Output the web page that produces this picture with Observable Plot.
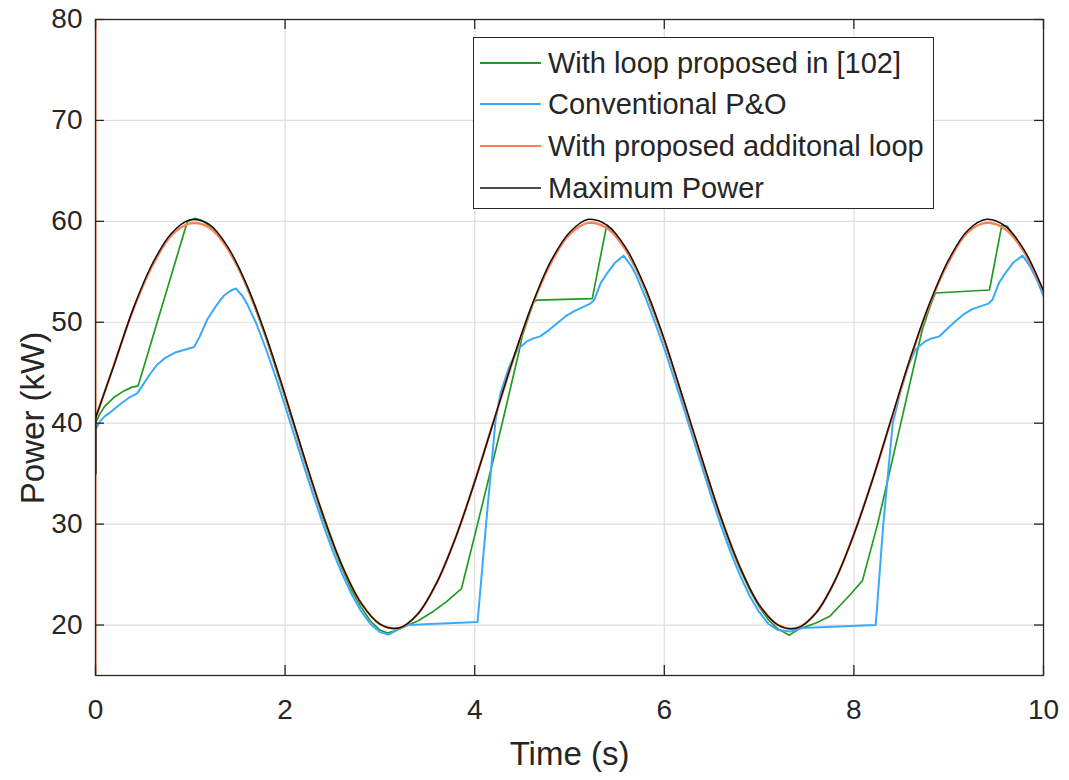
<!DOCTYPE html>
<html><head><meta charset="utf-8">
<script src="https://cdn.jsdelivr.net/npm/d3@7"></script>
<script src="https://cdn.jsdelivr.net/npm/@observablehq/plot@0.6"></script>
<style>
body{margin:0;background:#fff;}
#wrap{position:relative;width:1069px;height:780px;font-family:"Liberation Sans",Arial,Helvetica,sans-serif;}
#legend{position:absolute;left:473px;top:37px;width:459px;height:170px;border:1.3px solid #262626;background:#fff;box-sizing:content-box;}
.row{position:absolute;left:0;height:42px;display:flex;align-items:center;}
.sw{width:61px;margin-left:6px;margin-right:7px;}
.lab{font-size:29px;color:#262626;white-space:nowrap;line-height:42px;}
</style></head>
<body>
<div id="wrap"><div id="legend"></div></div>
<script>
// ---- data ----
const xTicks = [0, 2, 4, 6, 8, 10];
const yTicks = [20, 30, 40, 50, 60, 70, 80];
const xLabel = "Time (s)";
const yLabel = "Power (kW)";
const seriesNames = ["With loop proposed in [102]", "Conventional P&O", "With proposed additonal loop", "Maximum Power"];
const seriesColors = ["#229a22", "#3aaaf8", "#ff8050", "#111111"];

const timeGrid = [0,0.2,0.4,0.6,0.8,1.0,1.2,1.4,1.6,1.8,2.0,2.2,2.4,2.6,2.8,3.0,3.2,3.4,3.6,3.8,4.0,4.2,4.4,4.6,4.8,5.0,5.2,5.4,5.6,5.8,6.0,6.2,6.4,6.6,6.8,7.0,7.2,7.4,7.6,7.8,8.0,8.2,8.4,8.6,8.8,9.0,9.2,9.4,9.6,9.8,10.0];
const maxPower = [40.5,45.9,51.4,55.8,58.8,60.15,59.7,57.4,53.6,48.6,42.8,36.7,30.9,25.9,22.2,20.1,19.7,21.1,24.2,28.7,34.2,40.2,46.2,51.6,56.0,58.9,60.2,59.6,57.3,53.4,48.3,42.4,36.4,30.6,25.7,22.0,20.0,19.7,21.2,24.4,29.0,34.5,40.6,46.6,51.9,56.2,59.1,60.2,59.5,57.1,53.1];
const proposedLoop = [40.5,45.9,51.3,55.6,58.6,59.8,59.4,57.2,53.5,48.5,42.7,36.6,30.9,25.9,22.2,20.1,19.7,21.1,24.2,28.7,34.2,40.2,46.1,51.5,55.8,58.7,59.85,59.3,57.1,53.3,48.2,42.3,36.3,30.6,25.7,22.0,20.0,19.7,21.2,24.4,29.0,34.5,40.5,46.5,51.8,56.0,58.9,59.85,59.2,56.9,53.0];
const maxSpikeT = [0, 0];
const maxSpikeP = [35, 41];
const proposedSpikeT = [0, 0];
const proposedSpikeP = [15, 80];

const loop102T = [0,0.05,0.1,0.2,0.3,0.38,0.45,0.97,1.05,1.12,1.2,1.3,1.4,1.5,1.6,1.7,1.8,1.9,2.0,2.1,2.2,2.3,2.4,2.5,2.6,2.7,2.8,2.9,3.0,3.08,3.15,3.25,3.4,3.57,3.7,3.86,4.03,4.29,4.47,4.5,4.55,4.62,4.66,5.24,5.39,5.45,5.5,5.6,5.7,5.8,5.9,6.0,6.1,6.2,6.3,6.4,6.5,6.6,6.7,6.8,6.9,7.0,7.1,7.2,7.32,7.42,7.6,7.75,7.96,8.09,8.25,8.5,8.69,8.72,8.8,8.86,9.43,9.56,9.62,9.7,9.8,9.9,10.0];
const loop102P = [40.0,41.0,41.7,42.6,43.2,43.55,43.7,60.0,60.3,60.1,59.6,58.6,57.2,55.5,53.4,51.0,48.4,45.5,42.5,39.5,36.4,33.5,30.6,28.0,25.6,23.5,21.8,20.4,19.5,19.2,19.4,19.8,20.4,21.4,22.3,23.6,30.0,40.0,47.2,48.6,50.0,52.0,52.2,52.35,59.5,59.2,58.4,57.05,55.3,53.15,50.7,48.1,45.2,42.2,39.2,36.15,33.2,30.4,27.8,25.5,23.5,21.8,20.5,19.6,19.0,19.6,20.2,20.9,23.0,24.4,30.0,40.2,48.0,49.2,51.5,52.9,53.2,59.6,59.5,58.3,56.9,55.05,52.9];

const conventionalT = [0,0.05,0.1,0.16,0.25,0.35,0.44,0.5,0.57,0.65,0.74,0.84,0.95,1.04,1.1,1.18,1.27,1.35,1.42,1.48,1.55,1.6,1.7,1.8,1.9,2.0,2.1,2.2,2.3,2.4,2.5,2.6,2.7,2.8,2.9,3.0,3.09,3.2,3.29,4.03,4.12,4.22,4.27,4.36,4.45,4.55,4.62,4.69,4.78,4.87,4.96,5.05,5.14,5.22,5.26,5.33,5.4,5.48,5.57,5.65,5.7,5.8,5.9,6.0,6.1,6.2,6.3,6.4,6.5,6.6,6.7,6.8,6.9,7.0,7.1,7.2,7.33,7.45,8.23,8.31,8.41,8.49,8.57,8.65,8.75,8.82,8.9,8.98,9.07,9.16,9.25,9.34,9.42,9.46,9.53,9.6,9.68,9.78,9.86,9.93,10.0];
const conventionalP = [39.4,40.2,40.7,41.1,41.8,42.5,42.95,43.8,44.8,45.8,46.5,47.0,47.3,47.55,48.6,50.3,51.6,52.6,53.1,53.35,52.6,51.8,49.8,47.3,44.6,41.7,38.7,35.7,32.8,30.0,27.4,25.1,23.1,21.4,20.1,19.3,19.05,19.6,20.0,20.3,30.0,40.3,42.9,45.5,47.3,48.1,48.4,48.6,49.2,49.9,50.6,51.1,51.5,51.85,52.2,53.9,54.9,55.9,56.6,55.6,54.7,52.5,50.0,47.4,44.5,41.6,38.6,35.6,32.6,29.8,27.2,24.9,22.9,21.3,20.1,19.5,19.35,19.7,20.0,30.0,40.0,43.1,45.6,47.3,48.1,48.4,48.6,49.3,50.1,50.8,51.3,51.6,51.85,52.2,53.9,54.9,55.9,56.6,55.5,54.2,52.6];

// ---- tables ----
const zip = (T, P) => T.map((t, i) => ({t, p: P[i]}));
const maxData = zip(timeGrid, maxPower);
const propData = zip(timeGrid, proposedLoop);
const loopData = zip(loop102T, loop102P);
const convData = zip(conventionalT, conventionalP);
const maxSpike = zip(maxSpikeT, maxSpikeP);
const propSpike = zip(proposedSpikeT, proposedSpikeP);

const PH = 780 - 19 - 105;
const PW = 1069 - 95 - 26;
const ink = "#262626";
const grid = "#dedede";
const fontFam = "'Liberation Sans', Arial, Helvetica, sans-serif";

const chart = Plot.plot({
  width: 1069, height: 780,
  marginLeft: 95, marginRight: 26, marginTop: 19, marginBottom: 105,
  x: {domain: [0, 10]},
  y: {domain: [15, 80]},
  style: {fontFamily: fontFam, color: ink, background: "white", overflow: "visible"},
  marks: [
    Plot.gridX(xTicks, {stroke: grid, strokeOpacity: 1, strokeWidth: 1.2}),
    Plot.gridY(yTicks, {stroke: grid, strokeOpacity: 1, strokeWidth: 1.2}),
    Plot.line(loopData, {x: "t", y: "p", stroke: seriesColors[0], strokeWidth: 1.7, clip: true}),
    Plot.line(convData, {x: "t", y: "p", stroke: seriesColors[1], strokeWidth: 2, clip: true}),
    Plot.line(propSpike, {x: "t", y: "p", stroke: seriesColors[2], strokeWidth: 2.2, clip: true}),
    Plot.line(propData, {x: "t", y: "p", stroke: seriesColors[2], strokeWidth: 2.4, curve: "catmull-rom", clip: true}),
    Plot.line(maxSpike, {x: "t", y: "p", stroke: seriesColors[3], strokeWidth: 2.2, clip: true}),
    Plot.line(maxData, {x: "t", y: "p", stroke: seriesColors[3], strokeWidth: 1.5, curve: "catmull-rom", clip: true}),
    Plot.frame({stroke: ink, strokeWidth: 1.3}),
    Plot.tickX(xTicks, {x: d => d, insetTop: PH - 10, stroke: ink, strokeWidth: 1.3}),
    Plot.tickX(xTicks, {x: d => d, insetBottom: PH - 10, stroke: ink, strokeWidth: 1.3}),
    Plot.tickY(yTicks, {y: d => d, insetRight: PW - 9, stroke: ink, strokeWidth: 1.3}),
    Plot.tickY(yTicks, {y: d => d, insetLeft: PW - 9, stroke: ink, strokeWidth: 1.3}),
    Plot.axisX(xTicks, {tickSize: 0, tickPadding: 24, fontSize: 28, label: null}),
    Plot.axisY(yTicks, {tickSize: 0, tickPadding: 13, fontSize: 28, label: null}),
    Plot.text([xLabel], {text: d => d, frameAnchor: "bottom", lineAnchor: "top", dy: 66, fontSize: 33, fill: ink})
  ]
});
const wrap = document.getElementById("wrap");
wrap.insertBefore(chart, wrap.firstChild);

// y-axis title (placed as in the reference, slightly below the frame centre)
d3.select(chart).append("text")
  .attr("transform", "translate(44,418) rotate(-90)")
  .attr("text-anchor", "middle")
  .attr("font-family", fontFam)
  .attr("font-size", 33)
  .attr("fill", ink)
  .text(yLabel);

// ---- legend ----
const legend = document.getElementById("legend");
const rowCenters = [25, 66, 108, 150];
seriesNames.forEach((name, i) => {
  const row = document.createElement("div");
  row.className = "row";
  row.style.top = (rowCenters[i] - 21) + "px";
  const sw = document.createElementNS("http://www.w3.org/2000/svg", "svg");
  sw.setAttribute("class", "sw");
  sw.setAttribute("width", "61"); sw.setAttribute("height", "10");
  const ln = document.createElementNS("http://www.w3.org/2000/svg", "line");
  ln.setAttribute("x1", "0"); ln.setAttribute("x2", "61");
  ln.setAttribute("y1", "5"); ln.setAttribute("y2", "5");
  ln.setAttribute("stroke", seriesColors[i]);
  ln.setAttribute("stroke-width", i === 3 ? "1.5" : "2");
  sw.appendChild(ln);
  const lab = document.createElement("span");
  lab.className = "lab";
  lab.textContent = name;
  row.appendChild(sw); row.appendChild(lab);
  legend.appendChild(row);
});
</script>
</body></html>
